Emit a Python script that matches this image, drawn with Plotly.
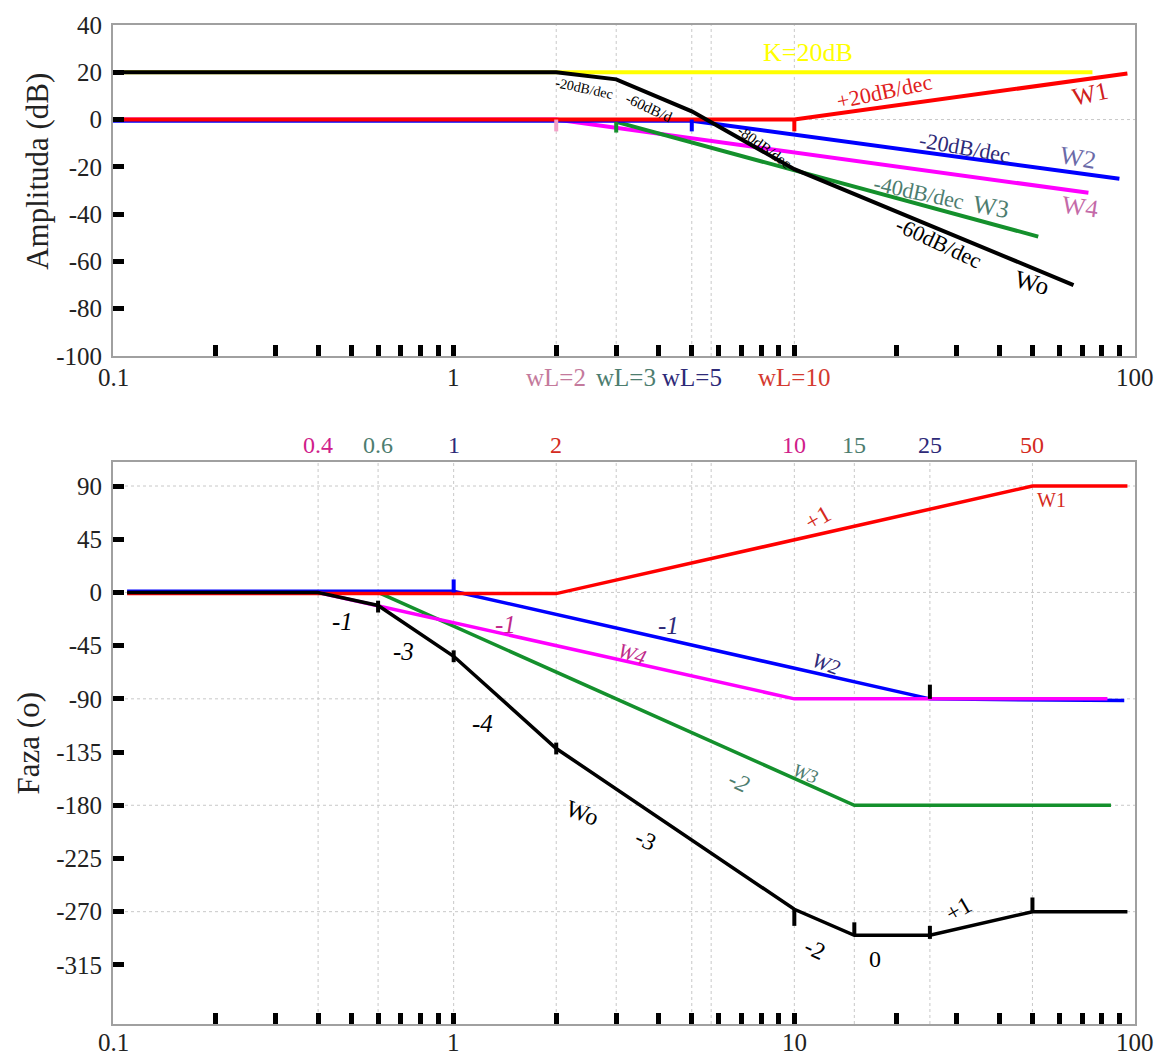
import math
import plotly.graph_objects as go

FONT = "Liberation Serif, Times New Roman, serif"

# ---------------- Amplitude (dB) data ----------------
amp_K_x = [0.1, 75]
amp_K_y = [20, 20]
amp_W1_x = [0.1, 10, 95]
amp_W1_y = [0, 0, 19.5]
amp_W2_x = [0.1, 5, 90]
amp_W2_y = [-0.5, -0.5, -25]
amp_W4_x = [0.1, 2, 73]
amp_W4_y = [0, 0, -31]
amp_W3_x = [3, 52]
amp_W3_y = [-1, -49.5]
amp_Wo_x = [0.1, 2, 3, 5, 10, 66]
amp_Wo_y = [20, 20, 17, 3.5, -21, -70]

# breakpoint markers (wL)
amp_break_x = [2, 3, 5, 10]
amp_break_top = [0, -1, 0, 0]
amp_break_bot = [-5, -5.5, -5, -5]
amp_break_col = ["#f4a0c8", "#14902c", "#0000ff", "#ff0000"]

# ---------------- Phase (deg) data ----------------
ph_W1_x = [0.11, 2, 50, 95]
ph_W1_y = [-1, -1, 90, 90]
ph_W2_x = [0.11, 1, 25, 93]
ph_W2_y = [1, 1, -90, -91.5]
ph_W4_x = [0.4, 10, 83]
ph_W4_y = [0, -90, -90]
ph_W3_x = [0.6, 15, 85]
ph_W3_y = [0, -180, -180]
ph_Wo_x = [0.11, 0.4, 0.6, 1, 2, 10, 15, 25, 50, 95]
ph_Wo_y = [0, 0, -11, -54, -132, -268, -290, -290, -270, -270]

# small tick marks on the phase curves
ph_tick_x = [0.6, 1, 2, 10, 15, 25, 50, 25]
ph_tick_y0 = [-17, -59, -137, -282, -290, -293, -270, -90]
ph_tick_y1 = [-7, -49, -127, -268, -279, -282, -258, -78]
ph_tick_col = ["black"] * 8
ph_blue_tick_x = [1]
ph_blue_tick_y0 = [0]
ph_blue_tick_y1 = [11]

# axis ticks / labels
x_tick_vals = [0.2, 0.3, 0.4, 0.5, 0.6, 0.7, 0.8, 0.9, 1,
               2, 3, 4, 5, 6, 7, 8, 9, 10,
               20, 30, 40, 50, 60, 70, 80, 90]
amp_y_ticks = [-100, -80, -60, -40, -20, 0, 20, 40]
amp_y_text = ["-100", "-80", "-60", "-40", "-20", "0", "20", "40"]
ph_y_ticks = [90, 45, 0, -45, -90, -135, -180, -225, -270, -315]
ph_y_text = ["90", "45", "0", "-45", "-90", "-135", "-180", "-225", "-270", "-315"]
amp_x_labels = [0.1, 1, 100]
ph_x_labels = [0.1, 1, 10, 100]
wl_x = [2, 3, 5, 10]
wl_text = ["wL=2", "wL=3", "wL=5", "wL=10"]
wl_col = ["#c47a9c", "#4d7d6f", "#2e2a78", "#d43a30"]
wl_shift = [0, 10, 0, 0]
ph_top_x = [0.4, 0.6, 1, 2, 10, 15, 25, 50]
ph_top_text = ["0.4", "0.6", "1", "2", "10", "15", "25", "50"]
ph_top_col = ["#d0208a", "#4d7d6f", "#2e2a78", "#d42a20",
              "#d0208a", "#4d7d6f", "#2e2a78", "#d42a20"]

amp_grid_x = [2, 3, 5, 5.7, 10]
amp_grid_y = [0]
ph_grid_x = [0.4, 0.6, 1, 2, 3, 5, 5.7, 10, 15, 25, 50]
ph_grid_y = [90, 0, -90, -180, -270]

fig = go.Figure()


def line(x, y, color, width, xa="x", ya="y"):
    fig.add_trace(go.Scatter(x=x, y=y, mode="lines", xaxis=xa, yaxis=ya,
                             line=dict(color=color, width=width),
                             hoverinfo="skip", showlegend=False))


# amplitude curves
line(amp_K_x, amp_K_y, "#ffff00", 4)
line(amp_W4_x, amp_W4_y, "#ff00ff", 4)
line(amp_W3_x, amp_W3_y, "#14902c", 4)
line(amp_W2_x, amp_W2_y, "#0000ff", 4)
line(amp_W1_x, amp_W1_y, "#ff0000", 4)
line(amp_Wo_x, amp_Wo_y, "#000000", 4)

# phase curves
line(ph_W3_x, ph_W3_y, "#14902c", 3.5, "x2", "y2")
line(ph_W2_x, ph_W2_y, "#0000ff", 3.5, "x2", "y2")
line(ph_W4_x, ph_W4_y, "#ff00ff", 3.5, "x2", "y2")
line(ph_W1_x, ph_W1_y, "#ff0000", 3.5, "x2", "y2")
line(ph_Wo_x, ph_Wo_y, "#000000", 3.5, "x2", "y2")

shapes = []
grid_line = dict(color="#c8c8c8", width=1, dash="dot")
for gx in amp_grid_x:
    shapes.append(dict(type="line", xref="x", yref="y domain", x0=gx, x1=gx, y0=0, y1=1,
                       line=grid_line, layer="below"))
for gy in amp_grid_y:
    shapes.append(dict(type="line", xref="x domain", yref="y", x0=0, x1=1, y0=gy, y1=gy,
                       line=grid_line, layer="below"))
for gx in ph_grid_x:
    shapes.append(dict(type="line", xref="x2", yref="y2 domain", x0=gx, x1=gx, y0=0, y1=1,
                       line=grid_line, layer="below"))
for gy in ph_grid_y:
    shapes.append(dict(type="line", xref="x2 domain", yref="y2", x0=0, x1=1, y0=gy, y1=gy,
                       line=grid_line, layer="below"))

# breakpoint markers
for bx, bt, bb, bc in zip(amp_break_x, amp_break_top, amp_break_bot, amp_break_col):
    shapes.append(dict(type="line", xref="x", yref="y", x0=bx, x1=bx, y0=bt, y1=bb,
                       line=dict(color=bc, width=4)))
for tx, t0, t1, tc in zip(ph_tick_x, ph_tick_y0, ph_tick_y1, ph_tick_col):
    shapes.append(dict(type="line", xref="x2", yref="y2", x0=tx, x1=tx, y0=t0, y1=t1,
                       line=dict(color=tc, width=4)))
for tx, t0, t1 in zip(ph_blue_tick_x, ph_blue_tick_y0, ph_blue_tick_y1):
    shapes.append(dict(type="line", xref="x2", yref="y2", x0=tx, x1=tx, y0=t0, y1=t1,
                       line=dict(color="#0000ff", width=4)))

ann = []


def txt(x, y, text, color, size, angle=0, xref="x", yref="y", italic=False, **kw):
    if italic:
        text = "<i>" + text + "</i>"
    d = dict(x=x, y=y, xref=xref, yref=yref, text=text, showarrow=False,
             textangle=angle, font=dict(family=FONT, size=size, color=color))
    d.update(kw)
    ann.append(d)


L = math.log10
# top plot annotations
txt(L(11), 28.5, "K=20dB", "#ffff00", 26)
txt(L(18.4), 11.8, "+20dB/dec", "#e02020", 22, -12)
txt(L(74), 11, "W1", "#d02020", 25, -12)
txt(L(31.6), -11.7, "-20dB/dec", "#2e2a78", 22, 10)
txt(L(68), -15.9, "W2", "#6a6aa8", 25, 10)
txt(L(69), -36.9, "W4", "#c46aa8", 25, 8)
txt(L(23.2), -31, "-40dB/dec", "#4d7d6f", 22, 12)
txt(L(37.7), -36.9, "W3", "#4d7d6f", 25, 10)
txt(L(26.5), -52, "-60dB/dec", "#000000", 22, 25)
txt(L(49.8), -68.9, "Wo", "#000000", 25, 15)
txt(L(2.41), 13.1, "-20dB/dec", "#000000", 14, 12)
txt(L(3.75), 4.7, "-60dB/d", "#000000", 15, 25)
txt(L(8.16), -11.7, "-80dB/dec", "#000000", 15, 36)

# x tick labels
for v in amp_x_labels:
    txt(L(v), 0, str(v), "#222222", 25, xref="x", yref="y domain", yanchor="top", yshift=-6)
for v in ph_x_labels:
    txt(L(v), 0, str(v), "#222222", 25, xref="x2", yref="y2 domain", yanchor="top", yshift=-3)
for v, t, c, s in zip(wl_x, wl_text, wl_col, wl_shift):
    txt(L(v), 0, t, c, 25, xref="x", yref="y domain", yanchor="top", yshift=-6, xshift=s)
for v, t, c in zip(ph_top_x, ph_top_text, ph_top_col):
    txt(L(v), 1, t, c, 24, xref="x2", yref="y2 domain", yanchor="bottom", yshift=2)

# bottom plot annotations
b = dict(xref="x2", yref="y2")
txt(L(0.473), -25, "-1", "#000000", 25, 0, italic=True, **b)
txt(L(0.711), -50, "-3", "#000000", 25, 0, italic=True, **b)
txt(L(1.215), -111, "-4", "#000000", 25, 0, italic=True, **b)
txt(L(1.419), -27, "-1", "#c02a8a", 25, 0, italic=True, **b)
txt(L(4.26), -28, "-1", "#2e2a78", 25, 0, italic=True, **b)
txt(L(3.34), -52, "W4", "#c02a8a", 21, 18, italic=True, **b)
txt(L(12.4), -60.5, "W2", "#2e2a78", 21, 20, italic=True, **b)
txt(L(11.7), 63, "+1", "#d42a20", 24, -30, **b)
txt(L(56.7), 78.3, "W1", "#d42a20", 20, 0, **b)
txt(L(6.9), -160, "-2", "#4d7d6f", 24, 25, italic=True, **b)
txt(L(10.8), -153, "W3", "#4d7d6f", 19, 20, italic=True, **b)
txt(L(2.39), -186.6, "Wo", "#000000", 24, 20, **b)
txt(L(3.67), -209, "-3", "#000000", 24, 25, **b)
txt(L(11.5), -301.5, "-2", "#000000", 24, 25, **b)
txt(L(17.3), -310, "0", "#000000", 24, 0, **b)
txt(L(30.4), -268, "+1", "#000000", 24, -30, **b)

# axis titles
txt(-0.0734, 0.854, "Amplituda (dB)", "#222222", 31, -90, xref="paper", yref="paper",
    xanchor="center", yanchor="middle")
txt(-0.083, 0.281, "Faza (o)", "#222222", 31, -90, xref="paper", yref="paper",
    xanchor="center", yanchor="middle")

xcommon = dict(type="log", range=[-1, 2], showgrid=False, zeroline=False,
               showline=True, mirror=True, linecolor="#a0a0a0", linewidth=2,
               ticks="inside", tickmode="array", tickvals=x_tick_vals,
               ticklen=11, tickwidth=5, tickcolor="black", showticklabels=False)
ycommon = dict(showgrid=False, zeroline=False, showline=True, mirror=True,
               linecolor="#a0a0a0", linewidth=2, ticks="inside", tickmode="array",
               ticklen=11, tickwidth=5, tickcolor="black", ticklabelstandoff=4,
               tickfont=dict(family=FONT, size=25, color="#222222"))

fig.update_layout(
    width=1157, height=1061,
    margin=dict(l=113, r=22, t=19, b=37),
    paper_bgcolor="white", plot_bgcolor="white",
    showlegend=False,
    xaxis=dict(domain=[0, 1], anchor="y", **xcommon),
    yaxis=dict(domain=[0.6687, 1], anchor="x", range=[-100, 40],
               tickvals=amp_y_ticks, ticktext=amp_y_text, **ycommon),
    xaxis2=dict(domain=[0, 1], anchor="y2", **xcommon),
    yaxis2=dict(domain=[0, 0.5622], anchor="x2", range=[-365, 110],
                tickvals=ph_y_ticks, ticktext=ph_y_text, **ycommon),
    shapes=shapes,
    annotations=ann,
)

fig.write_html("out.html")
